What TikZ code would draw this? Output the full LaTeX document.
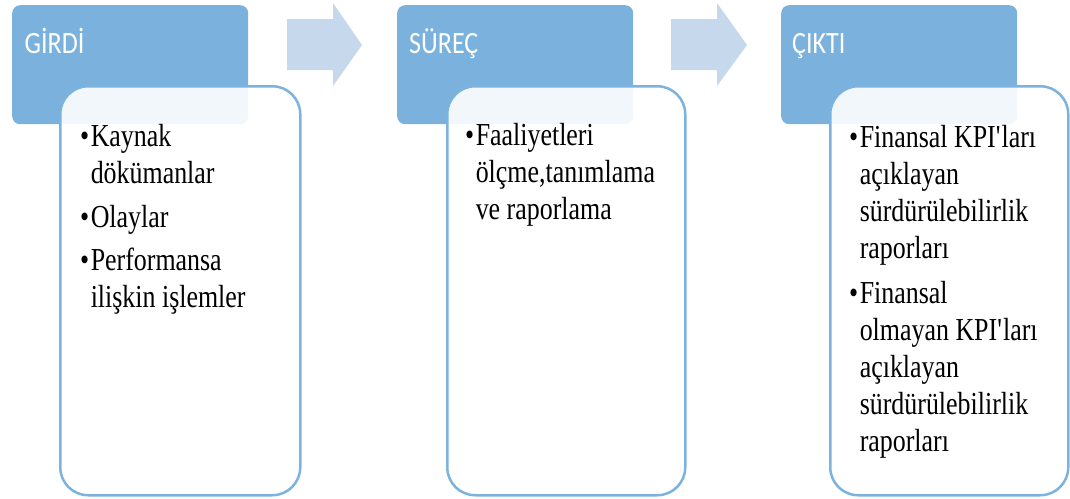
\documentclass[tikz,border=0pt]{standalone}
\usepackage{fontspec}
\setmainfont{Liberation Serif}[FakeStretch=0.81]
\newfontfamily\headfont{Carlito}[FakeStretch=0.84]
\definecolor{headblue}{HTML}{7AB2DD}
\definecolor{arrowblue}{HTML}{C6D8EC}
\definecolor{edgeblue}{HTML}{7BB3DE}
\begin{document}
\begin{tikzpicture}[x=1pt,y=-1pt,
    header/.style={fill=headblue, rounded corners=8pt, minimum width=236pt, minimum height=119pt, anchor=north west},
    body/.style={draw=edgeblue, line width=2.5pt, fill=white, fill opacity=0.9, rounded corners=28pt, minimum width=238pt, minimum height=409pt, anchor=north west},
    headtext/.style={font=\headfont\fontsize{31}{36}\selectfont, text=white, inner sep=0pt, anchor=base west},
    items/.style={font=\fontsize{32}{37}\selectfont, inner sep=0pt, anchor=base west},
    flow/.style={fill=arrowblue}]
    \useasboundingbox (0,0) rectangle (1070,498);
    % headers
    \node [header] (girdi) at (12,5) {};
    \node [header] (surec) at (397,5) {};
    \node [header] (cikti) at (781,5) {};
    \node [headtext] (girditext) at (24.5,53) {GİRDİ};
    \node [headtext] (surectext) at (409,53) {SÜREÇ};
    \node [headtext] (ciktitext) at (792,53) {ÇIKTI};
    % arrows
    \fill [flow] (287,19) -- (333,19) -- (333,3) -- (362,45) -- (333,86) -- (333,70) -- (287,70) -- cycle;
    \fill [flow] (671,19) -- (717,19) -- (717,3) -- (747,45) -- (717,86) -- (717,70) -- (671,70) -- cycle;
    % boxes
    \node [body, minimum width=240pt] (girdibody) at (59,85) {};
    \node [body] (surecbody) at (446,85) {};
    \node [body] (ciktibody) at (829,85) {};
    \node [items] (girdilist) at (80,146) {\begin{tabular}[t]{@{}l@{\hspace{1.5pt}}l@{}}
        \textbullet & Kaynak\\
        & dökümanlar\\[7pt]
        \textbullet & Olaylar\\[6pt]
        \textbullet & Performansa\\
        & ilişkin işlemler
      \end{tabular}};
    \node [items] (sureclist) at (465,145) {\begin{tabular}[t]{@{}l@{\hspace{1.5pt}}l@{}}
        \textbullet & Faaliyetleri\\
        & ölçme,tanımlama\\
        & ve raporlama
      \end{tabular}};
    \node [items] (ciktilist) at (849,147) {\begin{tabular}[t]{@{}l@{\hspace{1.5pt}}l@{}}
        \textbullet & Finansal KPI\textquotesingle ları\\
        & açıklayan\\
        & sürdürülebilirlik\\
        & raporları\\[8pt]
        \textbullet & Finansal\\
        & olmayan KPI\textquotesingle ları\\
        & açıklayan\\
        & sürdürülebilirlik\\
        & raporları
      \end{tabular}};
\end{tikzpicture}
\end{document}
